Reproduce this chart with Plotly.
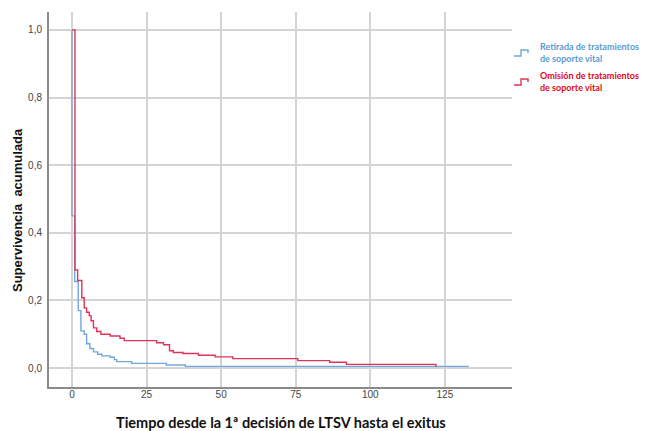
import plotly.graph_objects as go

# Retirada de tratamientos de soporte vital (blue)
ret_t = [0, 0, 0.9, 2.1, 3.0, 4.1, 4.9, 6.0, 7.2, 8.6, 10.0, 12.8, 14.2, 15.0, 20.0, 31.6, 38.0, 133.0]
ret_s = [1.0, 0.45, 0.256, 0.17, 0.11, 0.10, 0.072, 0.058, 0.048, 0.041, 0.036, 0.032, 0.025, 0.019, 0.014, 0.009, 0.005, 0.005]

# Omisión de tratamientos de soporte vital (red)
omi_t = [0, 1.0, 1.9, 3.3, 4.1, 4.9, 5.8, 6.4, 7.2, 8.3, 9.7, 12.8, 16.1, 17.5, 28.4, 30.7, 32.7, 34.0,
         37.2, 42.4, 48.0, 53.9, 75.7, 86.4, 92.0, 122.0, 122.0]
omi_s = [1.0, 0.29, 0.259, 0.208, 0.178, 0.165, 0.155, 0.14, 0.119, 0.108, 0.10, 0.095, 0.088, 0.081,
         0.075, 0.069, 0.051, 0.046, 0.043, 0.038, 0.033, 0.028, 0.022, 0.017, 0.011, 0.011, 0.004]

x_ticks = [0, 25, 50, 75, 100, 125]
y_ticks = [0.0, 0.2, 0.4, 0.6, 0.8, 1.0]

blue = "#6fa8dc"
red = "#e0335a"

OFF = 8  # page body margin
W, H = 648, 431
# plot area in page pixels: x 49..512, y 12..387
L, R = 49 - OFF, W - (512 - OFF)
T, B = 12 - OFF, H - (387 - OFF)
pw, ph = W - L - R, H - T - B

def px(x):  # page pixel -> paper
    return (x - OFF - L) / pw

def py(y):
    return (H - B - (y - OFF)) / ph

fig = go.Figure()
fig.add_trace(go.Scatter(x=ret_t, y=ret_s, mode="lines", line=dict(color=blue, width=1.4, shape="hv"),
                         name="Retirada de tratamientos de soporte vital", showlegend=False))
fig.add_trace(go.Scatter(x=omi_t, y=omi_s, mode="lines", line=dict(color=red, width=1.4, shape="hv"),
                         name="Omisión de tratamientos de soporte vital", showlegend=False))

fig.update_layout(
    width=W, height=H,
    margin=dict(l=L, r=R, t=T, b=B, autoexpand=False),
    paper_bgcolor="white", plot_bgcolor="white",
    separators=",.",
    font=dict(family="Liberation Sans, Arial, sans-serif", size=10, color="#444"),
)
fig.update_xaxes(range=[-7.7, 147.5], tickvals=x_ticks, showgrid=True, gridcolor="#d4d4d4", gridwidth=1.5,
                 showline=True, linecolor="#8a8a8a", linewidth=2, zeroline=False, ticks="", automargin=False,
                 ticklabelstandoff=-3, tickfont=dict(size=10, color="#444"))
fig.update_yaxes(range=[-0.056, 1.053], tickvals=y_ticks, tickformat=".1f", showgrid=True, gridcolor="#d4d4d4",
                 gridwidth=1.5, showline=True, linecolor="#8a8a8a", linewidth=2, zeroline=False, ticks="",
                 automargin=False, ticklabelstandoff=3, tickfont=dict(size=10, color="#444"))

# axis titles
fig.add_annotation(x=px(281), y=py(422), xref="paper", yref="paper", xanchor="center", yanchor="middle",
                   text="<b>Tiempo desde la 1ª decisión de LTSV hasta el exitus</b>",
                   showarrow=False, font=dict(family="Lato, Open Sans, sans-serif", size=14.5, color="#111"))
fig.add_annotation(x=px(17), y=py(210), xref="paper", yref="paper", xanchor="center", yanchor="middle",
                   text="<b>Supervivencia&nbsp; acumulada</b>", textangle=-90,
                   showarrow=False, font=dict(family="Liberation Sans, Arial, sans-serif", size=13, color="#111"))

# legend
leg = [("Retirada de tratamientos", "de soporte vital", blue, "#5b9bd5", 53),
       ("Omisión de tratamientos", "de soporte vital", red, "#e3061b", 82)]
for l1, l2, lc, tc, yc in leg:
    path = "M {} {} L {} {} L {} {} L {} {} L {} {}".format(px(514), py(yc + 3), px(521), py(yc + 3), px(521), py(yc - 3),
                                                           px(528), py(yc - 3), px(528), py(yc))
    fig.add_shape(type="path", path=path, xref="paper", yref="paper", line=dict(color=lc, width=1.4))
    fig.add_annotation(x=px(538), y=py(yc), xref="paper", yref="paper", xanchor="left", yanchor="middle",
                       align="left", text="<b>{}<br>{}</b>".format(l1, l2), showarrow=False,
                       font=dict(family="Lato, Open Sans, sans-serif", size=9, color=tc))

fig.write_html("out.html")
